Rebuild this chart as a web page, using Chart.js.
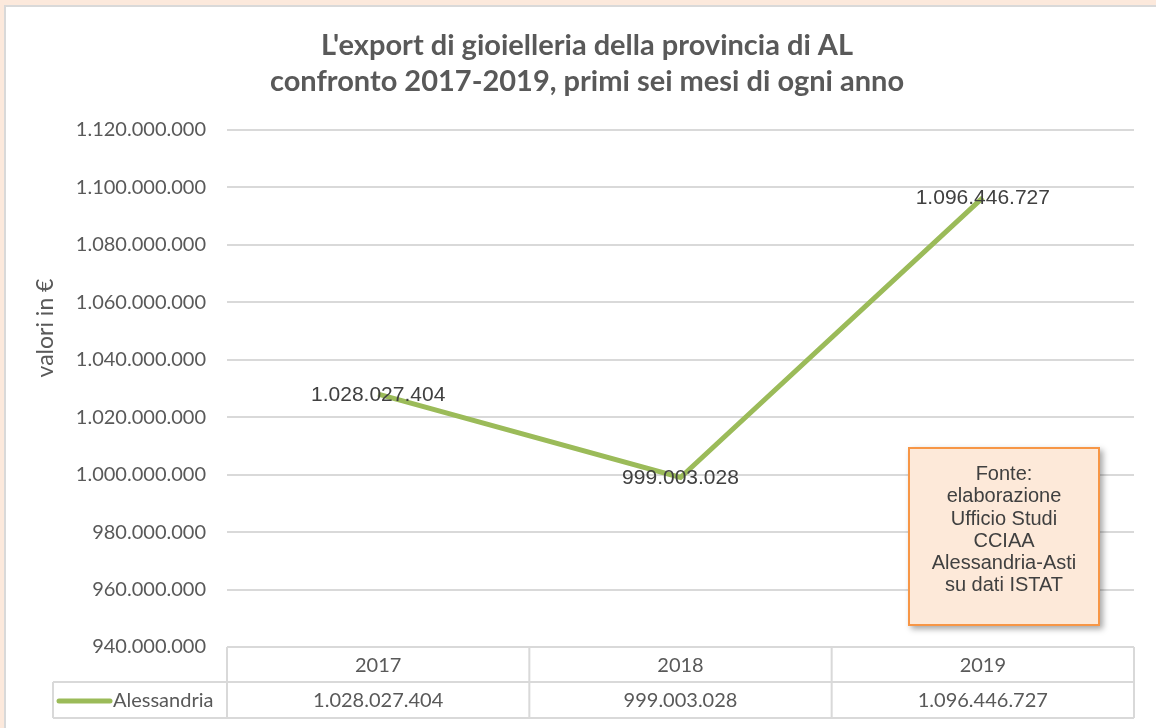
<!DOCTYPE html>
<html>
<head>
<meta charset="utf-8">
<script src="https://cdn.jsdelivr.net/npm/chart.js@4"></script>
<style>
    html, body { margin: 0; padding: 0; }
    body { width: 1156px; height: 728px; background: #fce9dc; position: relative; overflow: hidden; }
    .frame { position: absolute; left: 4px; top: 5px; right: 0; bottom: 0; background: #fff;
             border-left: 2px solid #d9d9d9; border-top: 2px solid #d9d9d9; }
    #chart { position: absolute; left: 0; top: 0; }
    .fonte { position: absolute; left: 908px; top: 447px; width: 188px; height: 162px;
             background: #fde9d9; border: 2px solid #f79646; box-shadow: 3px 3px 6px rgba(0,0,0,0.35);
             font-family: "Liberation Sans", Arial, sans-serif; font-size: 20px; line-height: 22.3px;
             color: #404040; text-align: center; padding-top: 13px; box-sizing: content-box; }
</style>
</head>
<body>
<div class="frame"></div>
<canvas id="chart" width="1156" height="728"></canvas>
<div class="fonte">Fonte:<br>elaborazione<br>Ufficio Studi<br>CCIAA<br>Alessandria-Asti<br>su dati ISTAT</div>
<script>
// data
const years = ['2017', '2018', '2019'];
const alessandria = [1028027404, 999003028, 1096446727];
const seriesName = 'Alessandria';
const titleLines = ["L'export di gioielleria della provincia di AL", 'confronto 2017-2019, primi sei mesi di ogni anno'];
const yTitle = 'valori in €';

const green = '#9bbb59';
const gridColor = '#d9d9d9';
const textColor = '#595959';

// 1028027404 -> "1.028.027.404"
const fmt = v => Math.round(v).toString().replace(/\B(?=(\d{3})+(?!\d))/g, '.');

// data labels, centred on each point
const pointLabels = {
    id: 'pointLabels',
    afterDatasetsDraw(chart) {
        const ctx = chart.ctx;
        const meta = chart.getDatasetMeta(0);
        ctx.save();
        ctx.font = '21px "Liberation Sans", Arial, sans-serif';
        ctx.fillStyle = '#404040';
        ctx.textAlign = 'center';
        ctx.textBaseline = 'middle';
        meta.data.forEach((pt, i) => {
            ctx.fillText(fmt(chart.data.datasets[0].data[i]), pt.x, pt.y + 1);
        });
        ctx.restore();
    }
};

// data table under the plot + rotated axis title
const dataTable = {
    id: 'dataTable',
    afterDraw(chart) {
        const ctx = chart.ctx;
        const x = chart.scales.x;
        const area = chart.chartArea;
        const colW = (area.right - area.left) / years.length;
        const top = area.bottom, mid = top + 35, bottom = mid + 36;
        const legendLeft = 53;

        ctx.save();
        ctx.strokeStyle = gridColor;
        ctx.lineWidth = 2;
        ctx.beginPath();
        // horizontal lines
        ctx.moveTo(area.left, top); ctx.lineTo(area.right, top);
        ctx.moveTo(legendLeft, mid); ctx.lineTo(area.right, mid);
        ctx.moveTo(legendLeft, bottom); ctx.lineTo(area.right, bottom);
        // vertical lines
        ctx.moveTo(legendLeft, mid); ctx.lineTo(legendLeft, bottom);
        for (let i = 0; i <= years.length; i++) {
            const cx = area.left + i * colW;
            ctx.moveTo(cx, top); ctx.lineTo(cx, bottom);
        }
        ctx.stroke();

        ctx.font = '20px Lato, sans-serif';
        ctx.fillStyle = textColor;
        ctx.textAlign = 'center';
        ctx.textBaseline = 'middle';
        years.forEach((y, i) => {
            const cx = x.getPixelForValue(i);
            ctx.fillText(y, cx, (top + mid) / 2 + 1);
            ctx.fillText(fmt(alessandria[i]), cx, (mid + bottom) / 2 + 1);
        });

        // legend key
        ctx.strokeStyle = green;
        ctx.lineWidth = 5;
        ctx.lineCap = 'round';
        ctx.beginPath();
        ctx.moveTo(59, (mid + bottom) / 2 + 1);
        ctx.lineTo(110, (mid + bottom) / 2 + 1);
        ctx.stroke();
        ctx.textAlign = 'left';
        ctx.fillText(seriesName, 113, (mid + bottom) / 2 + 1);

        // y axis title
        ctx.translate(46, 328);
        ctx.rotate(-Math.PI / 2);
        ctx.font = '23px Lato, sans-serif';
        ctx.textAlign = 'center';
        ctx.fillText(yTitle, 0, 0);
        ctx.restore();
    }
};

new Chart(document.getElementById('chart'), {
    type: 'line',
    data: {
        labels: years,
        datasets: [{
            label: seriesName,
            data: alessandria,
            borderColor: green,
            borderWidth: 5,
            pointRadius: 0,
            tension: 0
        }]
    },
    options: {
        responsive: false,
        animation: false,
        // left padding only moves the title's centre; the y axis width keeps the plot at x=227
        layout: { padding: { left: 40, right: 22, top: 0, bottom: 81 } },
        plugins: {
            legend: { display: false },
            tooltip: { enabled: false },
            title: {
                display: true,
                text: titleLines,
                color: textColor,
                font: { family: 'Lato, sans-serif', size: 29, weight: 'bold', lineHeight: 36 / 29 },
                padding: { top: 28, bottom: 30 }
            }
        },
        scales: {
            x: {
                display: false,
                offset: true
            },
            y: {
                min: 940000000,
                max: 1120000000,
                ticks: {
                    stepSize: 20000000,
                    color: textColor,
                    font: { family: 'Lato, sans-serif', size: 20 },
                    padding: 21,
                    callback: v => fmt(v)
                },
                grid: { color: gridColor, lineWidth: 2, drawTicks: false },
                border: { display: false },
                afterFit(axis) { axis.width = 187; }
            }
        }
    },
    plugins: [pointLabels, dataTable]
});
</script>
</body>
</html>
